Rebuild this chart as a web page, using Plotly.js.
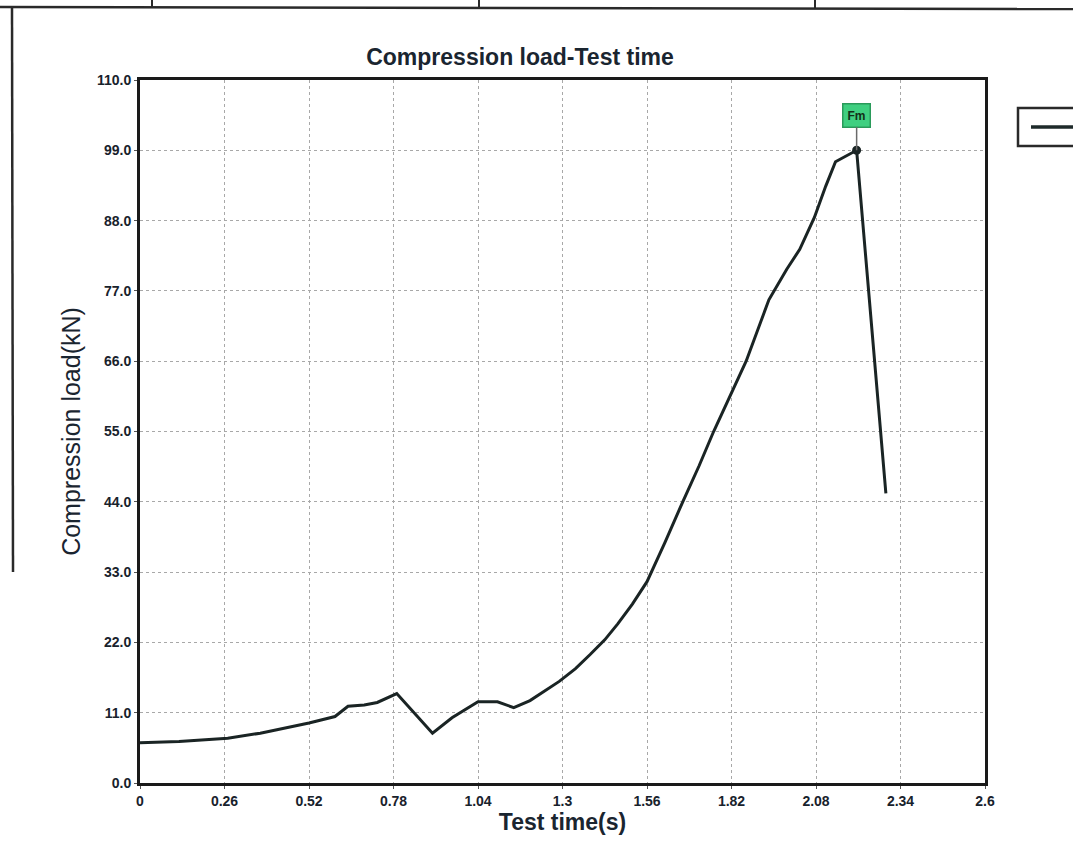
<!DOCTYPE html>
<html>
<head>
<meta charset="utf-8">
<script src="https://cdn.plot.ly/plotly-3.0.1.min.js"></script>
<style>html,body{margin:0;padding:0;background:#fff;}#chart{width:1073px;height:850px;}</style>
</head>
<body>
<div id="chart"></div>
<script>
// Data
const testTime = [0, 0.12, 0.27, 0.37, 0.52, 0.60, 0.64, 0.69, 0.73, 0.79, 0.90, 0.96, 1.04, 1.10, 1.15, 1.20, 1.29, 1.34, 1.385, 1.43, 1.47, 1.515, 1.56, 1.615, 1.67, 1.72, 1.765, 1.815, 1.865, 1.935, 1.99, 2.03, 2.075, 2.11, 2.14, 2.205, 2.295];
const compLoad = [6.3, 6.5, 7.0, 7.8, 9.4, 10.4, 12.0, 12.2, 12.6, 14.0, 7.8, 10.2, 12.7, 12.7, 11.8, 12.9, 15.9, 17.9, 20.1, 22.4, 24.9, 28.0, 31.5, 37.6, 44.0, 49.6, 55.0, 60.6, 66.0, 75.6, 80.4, 83.5, 88.5, 93.4, 97.2, 99.0, 45.3];
const peakTime = [2.205];
const peakLoad = [99.0];
const peakLabel = 'Fm';
const xTickVals = [0, 0.26, 0.52, 0.78, 1.04, 1.3, 1.56, 1.82, 2.08, 2.34, 2.6];
const xTickText = ['0', '0.26', '0.52', '0.78', '1.04', '1.3', '1.56', '1.82', '2.08', '2.34', '2.6'];
const yTickVals = [0, 11, 22, 33, 44, 55, 66, 77, 88, 99, 110];
const yTickText = ['0.0', '11.0', '22.0', '33.0', '44.0', '55.0', '66.0', '77.0', '88.0', '99.0', '110.0'];

// layout geometry (pixels)
const W = 1073, H = 850;
const L = 140, R = 985, T = 80, B = 783;
const px = v => (v - L) / (R - L);
const py = v => (B - v) / (B - T);

const frame = '#2a2a2a';
const shapes = [
  {type:'line', xref:'paper', yref:'paper', x0:px(12), x1:px(13), y0:py(7), y1:py(572), line:{color:frame, width:2.5}},
  {type:'line', xref:'paper', yref:'paper', x0:px(0), x1:px(1073), y0:py(7), y1:py(9), line:{color:frame, width:2.5}},
  {type:'line', xref:'paper', yref:'paper', x0:px(152), x1:px(152), y0:py(0), y1:py(8), line:{color:frame, width:2}},
  {type:'line', xref:'paper', yref:'paper', x0:px(479), x1:px(479), y0:py(0), y1:py(8), line:{color:frame, width:2}},
  {type:'line', xref:'paper', yref:'paper', x0:px(815), x1:px(815), y0:py(0), y1:py(8), line:{color:frame, width:2}},
  {type:'rect', xref:'paper', yref:'paper', x0:px(1018), x1:px(1090), y0:py(146), y1:py(108), line:{color:frame, width:2.5}, fillcolor:'rgba(0,0,0,0)'},
  {type:'line', xref:'paper', yref:'paper', x0:px(1031), x1:px(1080), y0:py(127), y1:py(127), line:{color:'#1e2a2a', width:3.5}}
];

const traces = [
  {x: testTime, y: compLoad, type:'scatter', mode:'lines', line:{color:'#1a2424', width:3}, hoverinfo:'x+y', showlegend:false},
  {x: peakTime, y: peakLoad, type:'scatter', mode:'markers', marker:{color:'#1a2424', size:9}, showlegend:false}
];

const tickFont = {family:'"Liberation Sans", Arial, sans-serif', size:14, color:'#18222c', weight:'bold'};

const layout = {
  width: W, height: H,
  margin: {l: L, r: W - R, t: T, b: H - B},
  paper_bgcolor: '#ffffff',
  plot_bgcolor: '#ffffff',
  title: {text: '<b>Compression load-Test time</b>', x: px(520), xref:'paper', xanchor:'center', y: 1 - 57/H, yanchor:'middle',
          font:{family:'"Liberation Sans", Arial, sans-serif', size:23, color:'#1a2530'}},
  xaxis: {
    range: [0, 2.6], tickvals: xTickVals, ticktext: xTickText,
    showgrid: true, gridcolor: '#a8a8a8', griddash: 'dot', gridwidth: 1,
    showline: true, linecolor: '#1a1a1a', linewidth: 3, mirror: true,
    ticks: 'outside', ticklen: 3, tickcolor: '#555',
    tickfont: tickFont, zeroline: false,
    title: {text: '<b>Test time(s)</b>', standoff: 6,
            font:{family:'"Liberation Sans", Arial, sans-serif', size:23, color:'#1a2530'}}
  },
  yaxis: {
    range: [0, 110], tickvals: yTickVals, ticktext: yTickText,
    showgrid: true, gridcolor: '#a8a8a8', griddash: 'dot', gridwidth: 1,
    showline: true, linecolor: '#1a1a1a', linewidth: 3, mirror: true,
    ticks: 'outside', ticklen: 3, tickcolor: '#555',
    tickfont: tickFont, zeroline: false,
    title: {text: 'Compression load(kN)', standoff: 10,
            font:{family:'"Liberation Sans", Arial, sans-serif', size:25, color:'#1a2530'}}
  },
  shapes: shapes,
  annotations: [
    {x: peakTime[0], y: peakLoad[0], xref:'x', yref:'y', text: '<b>' + peakLabel + '</b>',
     showarrow: true, arrowhead: 0, arrowwidth: 1.5, arrowcolor: '#6a6a6a', ax: 0, ay: -35,
     bgcolor: '#3fcf80', bordercolor: '#2a9a5a', borderwidth: 1.5, borderpad: 4,
     font: {family:'"Liberation Sans", Arial, sans-serif', size: 12, color: '#123018'}}
  ],
  showlegend: false
};

Plotly.newPlot('chart', traces, layout, {displayModeBar: false, staticPlot: true});
</script>
</body>
</html>
